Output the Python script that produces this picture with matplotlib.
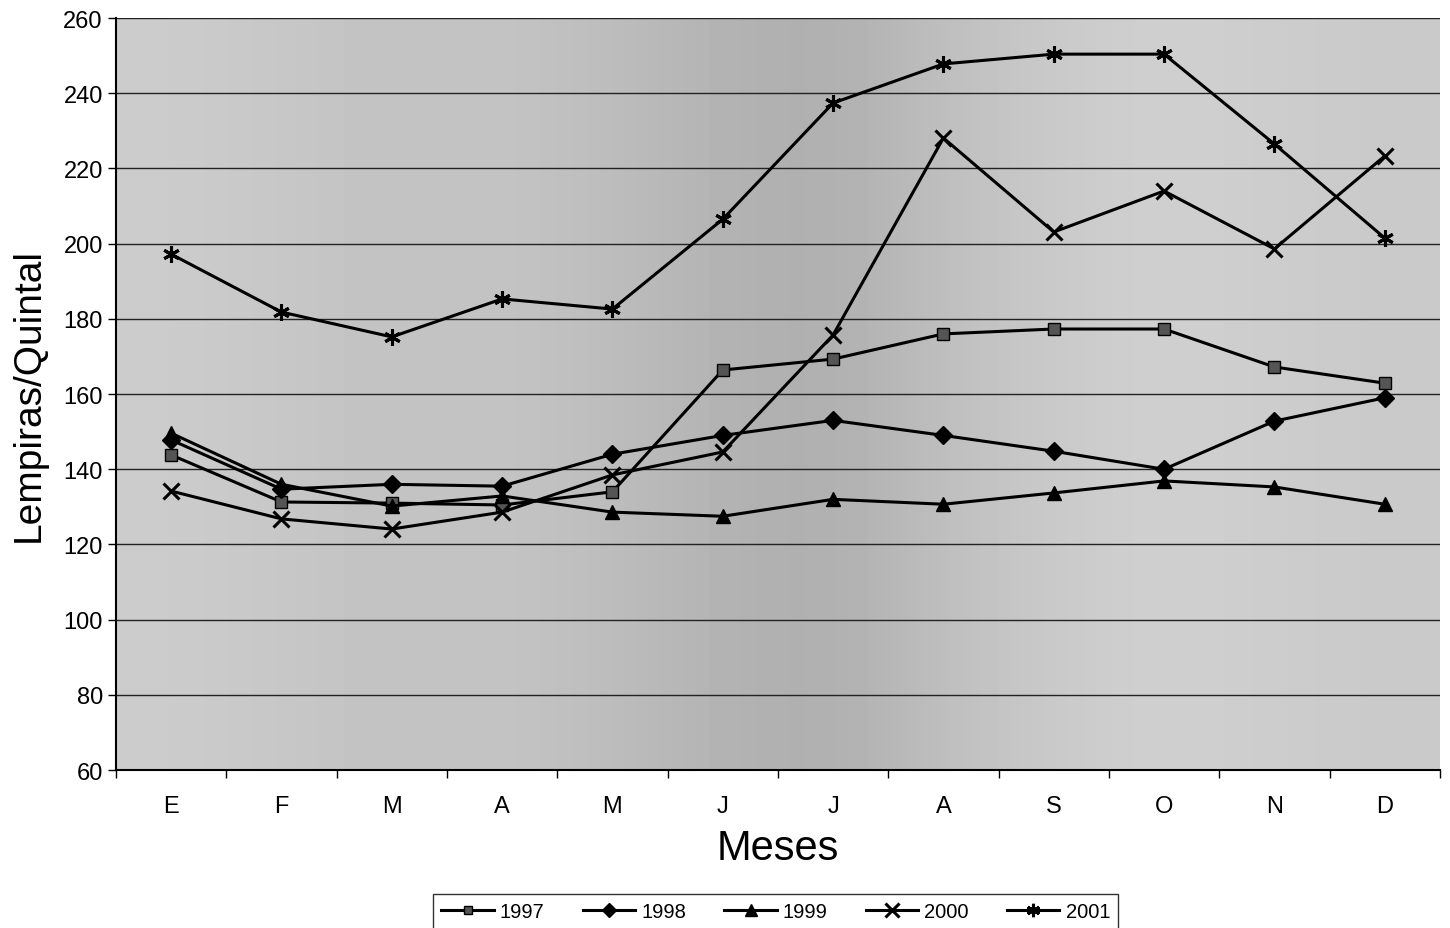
import matplotlib.pyplot as plt
import numpy as np

plt.rcParams['font.family'] = ['Liberation Sans', 'DejaVu Sans']

meses = ['E', 'F', 'M', 'A', 'M', 'J', 'J', 'A', 'S', 'O', 'N', 'D']

p1997 = [143.8, 131.3, 131.0, 130.5, 134.0, 166.4, 169.3, 176.0, 177.3, 177.3, 167.2, 162.9]
p1998 = [147.8, 134.7, 136.0, 135.5, 144.0, 149.0, 153.0, 149.0, 144.8, 140.0, 152.8, 159.0]
p1999 = [149.6, 136.0, 130.2, 132.9, 128.6, 127.5, 132.0, 130.7, 133.7, 136.9, 135.3, 130.7]
p2000 = [134.2, 126.8, 124.1, 128.6, 138.5, 144.6, 175.7, 228.1, 203.1, 214.0, 198.6, 223.3]
p2001 = [197.2, 181.8, 175.2, 185.3, 182.6, 206.5, 237.4, 247.8, 250.4, 250.4, 226.5, 201.5]

series = [
    ('1997', p1997, 's'),
    ('1998', p1998, 'D'),
    ('1999', p1999, '^'),
    ('2000', p2000, 'x'),
    ('2001', p2001, (6, 2, 0)),
]

fig = plt.figure(figsize=(14.5, 9.29), dpi=100)
ax = fig.add_axes([0.08, 0.17, 0.913, 0.8095])
ax.set_facecolor('#c2c2c2')

x = np.arange(len(meses))

# soft scanned shading, darker round the middle months
shade = np.array([[0.80, 0.78, 0.76, 0.77, 0.74, 0.70, 0.68, 0.75, 0.79, 0.82, 0.80, 0.79]])
ax.imshow(shade, cmap='gray', vmin=0, vmax=1, aspect='auto',
    extent=(-0.5, len(meses) - 0.5, 60, 260), interpolation='bicubic', zorder=0)

for label, vals, mk in series:
    if mk == 'x' or isinstance(mk, tuple):
        ax.plot(x, vals, c='black', lw=2.2, marker=mk, ms=12, mew=2.2,
            label=label, zorder=5)
    elif mk == 's':
        ax.plot(x, vals, c='black', lw=2.2, marker=mk, ms=8,
            mfc='#555555', mec='black', mew=1.0, label=label, zorder=5)
    else:
        ax.plot(x, vals, c='black', lw=2.2, marker=mk, ms=9 if mk == 'D' else 10,
            mfc='black', mec='black', label=label, zorder=5)

ax.set_xlim(-0.5, len(meses) - 0.5)
ax.set_ylim(60, 260)
ax.set_yticks(np.arange(60, 261, 20))
ax.set_xticks(x)
ax.set_xticklabels(meses)
ax.set_xticks(np.arange(-0.5, len(meses), 1), minor=True)
ax.tick_params(axis='x', which='major', length=0, pad=18, labelsize=17)
ax.tick_params(axis='x', which='minor', length=6, width=1.0, direction='out')
ax.tick_params(axis='y', length=6, width=1.0, direction='out', labelsize=17)
ax.grid(axis='y', color='#222222', lw=1.0, zorder=1)
ax.set_axisbelow(True)
for side in ['top', 'right']:
    ax.spines[side].set_visible(False)
ax.spines['left'].set_linewidth(1.5)
ax.spines['bottom'].set_linewidth(1.5)

ax.set_ylabel('Lempiras/Quintal', fontsize=28, labelpad=12)
ax.set_xlabel('Meses', fontsize=30, labelpad=8)

legend = fig.legend(loc='center', bbox_to_anchor=(0.535, 0.018), ncol=5,
    fontsize=14.5, frameon=True, fancybox=False, edgecolor='black',
    handlelength=2.6, columnspacing=1.9, handletextpad=0.3,
    borderpad=0.4, markerscale=0.8)
legend.get_frame().set_linewidth(1.0)

fig.savefig('out.png', dpi=100, facecolor='white')
